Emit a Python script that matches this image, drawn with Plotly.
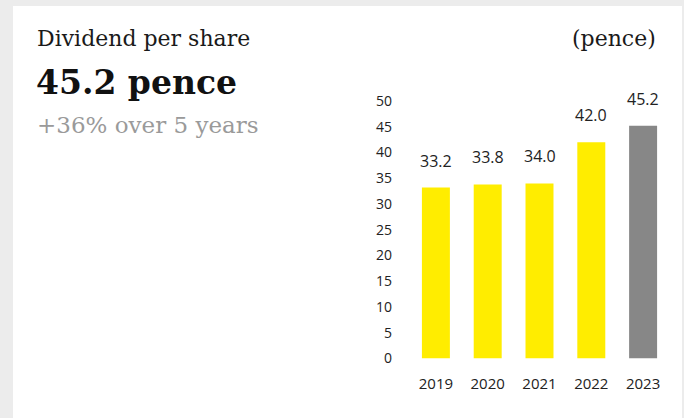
import plotly.graph_objects as go

years = ["2019", "2020", "2021", "2022", "2023"]
dividend = [33.2, 33.8, 34.0, 42.0, 45.2]
bar_colors = ["#FFED00", "#FFED00", "#FFED00", "#FFED00", "#878787"]
y_ticks = [0, 5, 10, 15, 20, 25, 30, 35, 40, 45, 50]

W, H = 684, 418

def px(x):
    return x / W

def py(y):
    return 1 - y / H

fig = go.Figure()
fig.add_trace(go.Bar(
    x=years, y=dividend,
    marker=dict(color=bar_colors, line=dict(width=0)),
    width=0.54,
    hoverinfo="skip",
))

for i, v in enumerate(dividend):
    fig.add_annotation(
        x=i, y=v, xref="x", yref="y",
        text=f"{v:.1f}", showarrow=False,
        yanchor="bottom", yshift=14,
        font=dict(family="Open Sans, Liberation Sans, sans-serif", size=16, color="#222222"),
    )

tfont = "DejaVu Serif, Liberation Serif, serif"
fig.add_annotation(x=px(35), y=py(38.5), xref="paper", yref="paper", xanchor="left", yanchor="middle",
                   text="Dividend per share", showarrow=False,
                   font=dict(family=tfont, size=22, color="#1a1a1a"))
fig.add_annotation(x=px(658), y=py(39), xref="paper", yref="paper", xanchor="right", yanchor="middle",
                   text="(pence)", showarrow=False,
                   font=dict(family=tfont, size=22, color="#1a1a1a"))
fig.add_annotation(x=px(34), y=py(82), xref="paper", yref="paper", xanchor="left", yanchor="middle",
                   text="<b>45.2 pence</b>", showarrow=False,
                   font=dict(family=tfont, size=33, color="#111111"))
fig.add_annotation(x=px(35), y=py(124.5), xref="paper", yref="paper", xanchor="left", yanchor="middle",
                   text="+36% over 5 years", showarrow=False,
                   font=dict(family=tfont, size=23, color="#9a9a9a"))

fig.add_shape(type="rect", xref="paper", yref="paper",
              x0=px(13), x1=px(682), y0=0, y1=py(6),
              fillcolor="white", line=dict(width=0), layer="below")

fig.update_layout(
    width=W, height=H,
    autosize=False,
    margin=dict(l=0, r=0, t=0, b=0, pad=0, autoexpand=False),
    paper_bgcolor="#ececec",
    plot_bgcolor="rgba(0,0,0,0)",
    showlegend=False,
    bargap=0.46,
    xaxis=dict(
        type="category",
        automargin=False,
        domain=[px(410), px(669)],
        range=[-0.5, 4.5],
        showgrid=False, zeroline=False, showline=False, ticks="",
        ticklabelstandoff=14,
        tickfont=dict(family="Open Sans, Liberation Sans, sans-serif", size=15, color="#222222"),
        fixedrange=True,
    ),
    yaxis=dict(
        automargin=False,
        domain=[py(358.5), py(101)],
        range=[0, 50],
        tickvals=y_ticks,
        showgrid=False, zeroline=False, showline=False, ticks="",
        ticklabelstandoff=17,
        tickfont=dict(family="Open Sans, Liberation Sans, sans-serif", size=14, color="#222222"),
        fixedrange=True,
    ),
)

fig.write_html("out.html", config={"displayModeBar": False},
               post_script="document.body.style.margin='0';document.body.style.background='#ececec';")
